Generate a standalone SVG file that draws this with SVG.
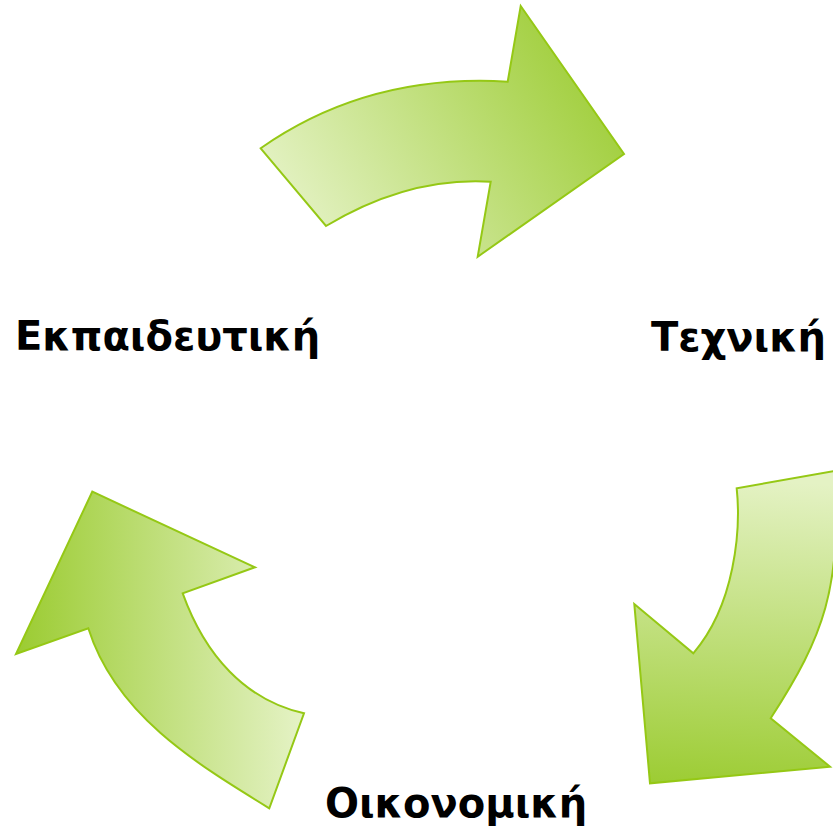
<svg xmlns="http://www.w3.org/2000/svg" width="833" height="835" viewBox="0 0 833 835">
<defs>
<linearGradient id="gTop" gradientUnits="userSpaceOnUse" x1="300" y1="230" x2="600" y2="40">
<stop offset="0" stop-color="#e4f2c4"/><stop offset="1" stop-color="#9ccc33"/>
</linearGradient>
<linearGradient id="gRight" gradientUnits="userSpaceOnUse" x1="760" y1="480" x2="740" y2="790">
<stop offset="0" stop-color="#e4f2c4"/><stop offset="1" stop-color="#9ccc33"/>
</linearGradient>
<linearGradient id="gLeft" gradientUnits="userSpaceOnUse" x1="20" y1="650" x2="300" y2="650">
<stop offset="0" stop-color="#9ccc33"/><stop offset="1" stop-color="#e4f2c4"/>
</linearGradient>
</defs>
<style>
.arrow{stroke:#95c815;stroke-width:2;stroke-linejoin:miter}
.lbl{font-family:"DejaVu Sans","Noto Sans",sans-serif;font-weight:bold;font-size:40px;fill:#000}
</style>
<g id="connectors">
<path id="arrowTop" class="arrow" fill="url(#gTop)" d="M 260.7,148.3 L 326,226 Q 408,176.7 490.7,181.7 L 477.7,256.7 L 624,154 L 520.7,6 L 507.7,81.7 Q 367.9,73.3 260.7,148.3 Z"/>
<path id="arrowRight" class="arrow" fill="url(#gRight)" d="M 736.7,488.3 C 741,530 735,605 693.3,653.3 L 634.3,604 L 650,783.3 L 830,766.7 L 770.7,718.3 C 824.7,634.3 841,590 835,471 Z"/>
<path id="arrowLeft" class="arrow" fill="url(#gLeft)" d="M 182.7,593.3 C 205,655 245,700 304,713.3 L 269.3,808.3 C 192.8,761.5 115.3,713.8 88.3,628.3 L 16,654 L 92.3,491.7 L 255,567.3 Z"/>
</g>
<g id="node-educational"><text class="lbl" x="15" y="350">Εκπαιδευτική</text></g>
<g id="node-technical"><text class="lbl" x="651" y="351">Τεχνική</text></g>
<g id="node-economic"><text class="lbl" x="325" y="817">Οικονομική</text></g>
</svg>
